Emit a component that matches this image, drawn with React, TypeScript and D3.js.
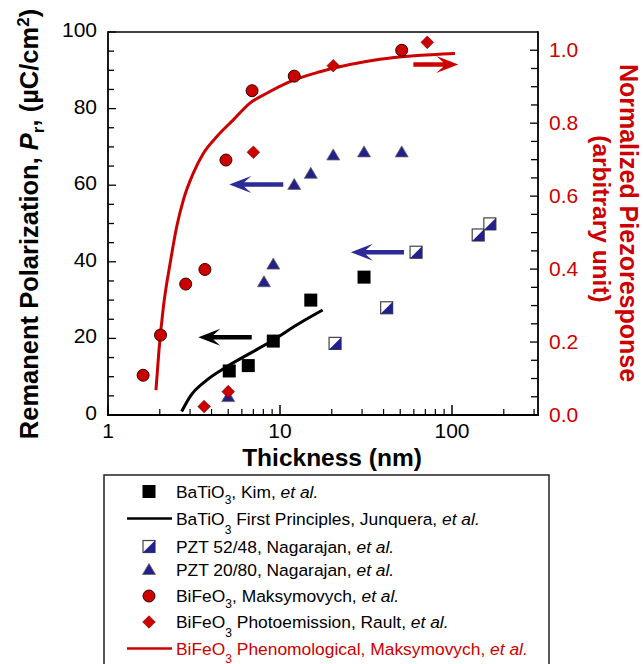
import React from 'react';
import * as d3 from 'd3';

const W = 643;
const H = 664;

// x ticks / y ticks
const xMajorTicks = [1, 10, 100];
const xMinorTicks = [2, 3, 4, 5, 6, 7, 8, 9, 20, 30, 40, 50, 60, 70, 80, 90, 200, 300];
const yLeftTicks = [0, 20, 40, 60, 80, 100];
const yRightTicks = [0, 0.2, 0.4, 0.6, 0.8, 1.0];

// BaTiO3, Kim et al. (left axis)
const kimX = [5.07, 6.54, 9.14, 15.1, 30.8];
const kimY = [11.5, 12.9, 19.3, 30.0, 36.0];

// BaTiO3 first principles, Junquera (left axis)
const junqX = [2.68, 3.0, 3.75, 4.9, 6.69, 9.14, 12.5, 17.7];
const junqY = [0.9, 4.8, 9.1, 12.6, 16.1, 19.6, 23.5, 27.4];

// PZT 52/48 (left axis)
const pzt52X = [20.9, 41.7, 61.8, 142, 166];
const pzt52Y = [18.7, 28.0, 42.5, 47.0, 49.9];

// PZT 20/80 (left axis)
const pzt20X = [5.0, 8.07, 9.14, 12.1, 15.1, 20.4, 30.8, 51];
const pzt20Y = [4.8, 34.8, 39.4, 60.2, 63.1, 67.9, 68.7, 68.7];

// BiFeO3 Maksymovych (right axis)
const bfoX = [1.6, 2.02, 2.83, 3.66, 4.85, 6.88, 12.1, 51];
const bfoY = [0.109, 0.219, 0.359, 0.399, 0.699, 0.889, 0.929, 1.0];

// BiFeO3 photoemission, Rault (left axis)
const raultX = [3.62, 5.0, 7.0, 20.4, 71.8];
const raultY = [2.2, 6.1, 68.6, 91.2, 97.3];

// BiFeO3 phenomenological curve (right axis)
const phenX = [1.9, 1.98, 2.1, 2.315, 2.508, 2.741, 3.133, 3.581, 4.285, 5.353, 6.69, 8.37, 11.43, 17.1, 38.1, 104];
const phenY = [0.068, 0.179, 0.297, 0.425, 0.516, 0.589, 0.663, 0.717, 0.763, 0.809, 0.855, 0.882, 0.914, 0.941, 0.975, 0.991];

const RED = '#cc0000';
const NAVY = '#232087';
const ARROW_BLUE = '#2c2a96';
const FONT = "'Liberation Sans', Arial, Helvetica, sans-serif";

function arrowPath(x1: number, x2: number, y: number) {
  // x1: tail, x2: tip
  const dir = x2 > x1 ? 1 : -1;
  const sw = 2.2;
  const back = 22;
  const notch = 15;
  const hw = 8.5;
  const b = x2 - dir * back;
  const n = x2 - dir * notch;
  return `M${x1},${y - sw} L${n},${y - sw} L${b},${y - hw} L${x2},${y} L${b},${y + hw} L${n},${y + sw} L${x1},${y + sw} Z`;
}

export default function App() {
  const x = d3.scaleLog().domain([1, Math.pow(10, 2.5)]).range([108, 538]);
  const yL = d3.scaleLinear().domain([0, 100]).range([415, 32]);
  const yR = d3.scaleLinear().domain([0, 1.05]).range([415, 32]);

  const line = d3.line<[number, number]>().curve(d3.curveMonotoneX);
  const junqPath = line(junqX.map((v, i) => [x(v), yL(junqY[i])] as [number, number]));
  const phenPath = line(phenX.map((v, i) => [x(v), yR(phenY[i])] as [number, number]));

  const leftMinor = d3.range(0, 101, 5);
  const rightMinor = d3.range(0, 21).map((i) => i * 0.05);

  const square = (cx: number, cy: number, k: string | number, fill = '#000') => (
    <rect key={k} x={cx - 6.5} y={cy - 6.5} width={13} height={13} fill={fill} />
  );
  const halfSquare = (cx: number, cy: number, k: string | number) => (
    <g key={k}>
      <rect x={cx - 6} y={cy - 6} width={12} height={12} fill="#fff" stroke="#444" strokeWidth={1.2} />
      <path d={`M${cx + 6},${cy - 6} L${cx + 6},${cy + 6} L${cx - 6},${cy + 6} Z`} fill={NAVY} />
    </g>
  );
  const triangle = (cx: number, cy: number, k: string | number) => (
    <path key={k} d={`M${cx},${cy - 6} L${cx + 6.5},${cy + 5} L${cx - 6.5},${cy + 5} Z`} fill={NAVY} stroke="#666" strokeWidth={0.8} />
  );
  const circle = (cx: number, cy: number, k: string | number) => (
    <circle key={k} cx={cx} cy={cy} r={6} fill={RED} stroke="#300" strokeWidth={1} />
  );
  const diamond = (cx: number, cy: number, k: string | number) => (
    <path key={k} d={`M${cx},${cy - 6.3} L${cx + 6.3},${cy} L${cx},${cy + 6.3} L${cx - 6.3},${cy} Z`} fill={RED} stroke="#600" strokeWidth={0.6} />
  );

  const legendRows = [491.5, 518.5, 546.5, 569.5, 596, 622, 648.5];
  const lx = 149;
  const tx = 176;

  return (
    <svg width={W} height={H} style={{ position: 'absolute', left: 0, top: 0 }} fontFamily={FONT}>
      <rect width={W} height={H} fill="#fff" />
      {/* frame */}
      <line x1={108} y1={32} x2={538} y2={32} stroke="#000" strokeWidth={1.6} />
      <line x1={108} y1={31.2} x2={108} y2={415.8} stroke="#000" strokeWidth={1.8} />
      <line x1={538} y1={31.2} x2={538} y2={415.8} stroke="#000" strokeWidth={1.8} />
      <line x1={107} y1={415} x2={539} y2={415} stroke="#000" strokeWidth={1.8} />

      {/* left ticks */}
      {leftMinor.map((v) => (
        <line key={'lt' + v} x1={108} x2={v % 20 === 0 ? 116 : 114} y1={yL(v)} y2={yL(v)} stroke="#000" strokeWidth={1.3} />
      ))}
      {yLeftTicks.map((v) => (
        <text key={'ll' + v} x={97} y={yL(v) + 5} textAnchor="end" fontSize={21} fill="#000">{v}</text>
      ))}

      {/* right ticks */}
      {rightMinor.map((v, i) => (
        <line key={'rt' + i} x1={538} x2={i % 4 === 0 ? 530 : 531} y1={yR(v)} y2={yR(v)} stroke="#000" strokeWidth={1.3} />
      ))}
      {yRightTicks.map((v) => (
        <text key={'rl' + v} x={549} y={yR(v) + 7} textAnchor="start" fontSize={21} fill={RED}>{v.toFixed(1)}</text>
      ))}

      {/* bottom ticks */}
      {xMajorTicks.map((v) => (
        <line key={'xm' + v} x1={x(v)} x2={x(v)} y1={415} y2={405} stroke="#000" strokeWidth={1.5} />
      ))}
      {xMinorTicks.map((v) => (
        <line key={'xn' + v} x1={x(v)} x2={x(v)} y1={415} y2={409} stroke="#000" strokeWidth={1.2} />
      ))}
      {xMajorTicks.map((v) => (
        <text key={'xl' + v} x={x(v)} y={438} textAnchor="middle" fontSize={21} fill="#000">{v}</text>
      ))}

      {/* axis titles */}
      <text x={332} y={466} textAnchor="middle" fontSize={24.5} fontWeight="bold" fill="#000">Thickness (nm)</text>
      <text transform="translate(38,224) rotate(-90)" textAnchor="middle" fontSize={25.5} fontWeight="bold" fill="#000">
        Remanent Polarization, <tspan fontStyle="italic">P</tspan>
        <tspan fontSize={17} dy={6}>r</tspan>
        <tspan dy={-6}>, (µC/cm</tspan>
        <tspan fontSize={17} dy={-9}>2</tspan>
        <tspan dy={9}>)</tspan>
      </text>
      <text transform="translate(620,223) rotate(90)" textAnchor="middle" fontSize={25} fontWeight="bold" fill={RED}>
        Normalized Piezoresponse
      </text>
      <text transform="translate(593,219) rotate(90)" textAnchor="middle" fontSize={24.5} fontWeight="bold" fill={RED}>
        (arbitrary unit)
      </text>

      {/* curves */}
      <path d={phenPath || ''} fill="none" stroke={RED} strokeWidth={3} />
      <path d={junqPath || ''} fill="none" stroke="#000" strokeWidth={3} />

      {/* arrows */}
      <path d={arrowPath(x(59.6), x(108.8), yR(0.961))} fill={RED} />
      <path d={arrowPath(x(10.45), x(5.07), yL(60.2))} fill={ARROW_BLUE} />
      <path d={arrowPath(x(52.6), x(25.8), yL(42.5))} fill={ARROW_BLUE} />
      <path d={arrowPath(x(6.85), x(3.35), yL(20.3))} fill="#000" />

      {/* markers */}
      {pzt52X.map((v, i) => halfSquare(x(v), yL(pzt52Y[i]), 'p52' + i))}
      {pzt20X.map((v, i) => triangle(x(v), yL(pzt20Y[i]), 'p20' + i))}
      {kimX.map((v, i) => square(x(v), yL(kimY[i]), 'kim' + i))}
      {bfoX.map((v, i) => circle(x(v), yR(bfoY[i]), 'bfo' + i))}
      {raultX.map((v, i) => diamond(x(v), yL(raultY[i]), 'ra' + i))}

      {/* legend */}
      <rect x={104} y={475} width={445} height={220} fill="none" stroke="#222" strokeWidth={1.5} />
      {square(lx, legendRows[0], 'lg0')}
      <line x1={127} x2={172} y1={legendRows[1]} y2={legendRows[1]} stroke="#000" strokeWidth={2.5} />
      {halfSquare(lx, legendRows[2], 'lg2')}
      {triangle(lx, legendRows[3], 'lg3')}
      {circle(lx, legendRows[4], 'lg4')}
      {diamond(lx, legendRows[5], 'lg5')}
      <line x1={127} x2={172} y1={legendRows[6]} y2={legendRows[6]} stroke={RED} strokeWidth={2.5} />

      <g fontSize={17.4} fill="#000">
        <text x={tx} y={legendRows[0] + 6}>
          BaTiO<tspan fontSize={12} dy={6}>3</tspan><tspan dy={-6}>, Kim, </tspan><tspan fontStyle="italic">et al.</tspan>
        </text>
        <text x={tx} y={legendRows[1] + 6}>
          BaTiO<tspan fontSize={12} dy={9}>3</tspan><tspan dy={-9}> First Principles, Junquera, </tspan><tspan fontStyle="italic">et al.</tspan>
        </text>
        <text x={tx} y={legendRows[2] + 6}>
          PZT 52/48, Nagarajan, <tspan fontStyle="italic">et al.</tspan>
        </text>
        <text x={tx} y={legendRows[3] + 6}>
          PZT 20/80, Nagarajan, <tspan fontStyle="italic">et al.</tspan>
        </text>
        <text x={tx} y={legendRows[4] + 6}>
          BiFeO<tspan fontSize={12} dy={6}>3</tspan><tspan dy={-6}>, Maksymovych, </tspan><tspan fontStyle="italic">et al.</tspan>
        </text>
        <text x={tx} y={legendRows[5] + 6}>
          BiFeO<tspan fontSize={12} dy={9}>3</tspan><tspan dy={-9}> Photoemission, Rault, </tspan><tspan fontStyle="italic">et al.</tspan>
        </text>
        <text x={tx} y={legendRows[6] + 6} fill={RED}>
          BiFeO<tspan fontSize={12} dy={8}>3</tspan><tspan dy={-8}> Phenomological, Maksymovych, </tspan><tspan fontStyle="italic">et al.</tspan>
        </text>
      </g>
    </svg>
  );
}
